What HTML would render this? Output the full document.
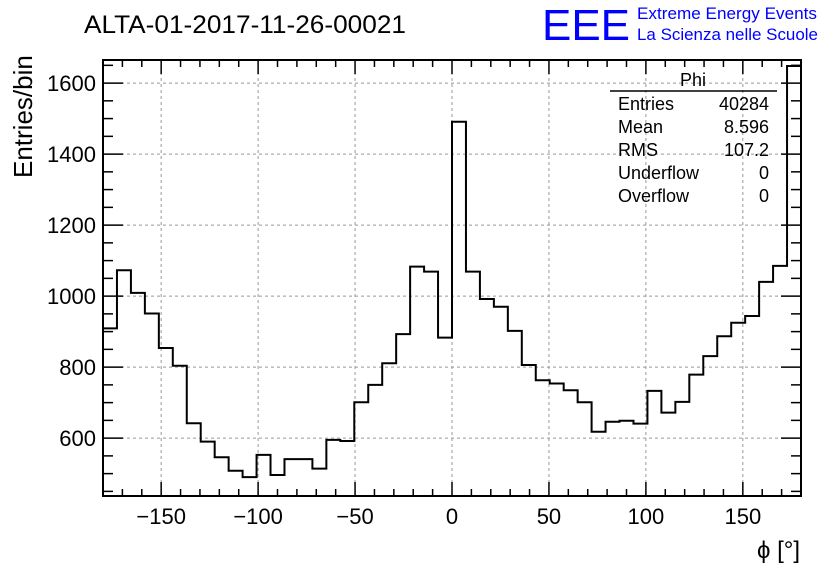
<!DOCTYPE html>
<html><head><meta charset="utf-8"><style>
body{margin:0;background:#fff;width:836px;height:572px;overflow:hidden}
svg{display:block;font-family:"Liberation Sans",sans-serif}
</style></head><body>
<svg id="c" width="836" height="572">
<text x="84" y="33" font-size="25" textLength="322" lengthAdjust="spacingAndGlyphs">ALTA-01-2017-11-26-00021</text>
<text x="542" y="40" font-size="44" fill="#0000ff" textLength="88" lengthAdjust="spacingAndGlyphs">EEE</text>
<text x="637" y="19" font-size="17" fill="#0000ff" textLength="180" lengthAdjust="spacingAndGlyphs">Extreme Energy Events</text>
<text x="637" y="40" font-size="17" fill="#0000ff" textLength="181" lengthAdjust="spacingAndGlyphs">La Scienza nelle Scuole</text>
<text transform="translate(32,178) rotate(-90)" font-size="26" text-anchor="start">Entries/bin</text>
<text x="800" y="558" font-size="24" text-anchor="end">ϕ [°]</text>
<g id="grid"></g><g id="hist"></g><g id="axes"></g>
<g font-size="18">
<text x="693" y="86" text-anchor="middle">Phi</text>
<line x1="610" y1="91" x2="777" y2="91" stroke="#000" stroke-width="1.5"/>
<text x="618" y="110">Entries</text><text x="769" y="110" text-anchor="end">40284</text>
<text x="618" y="133">Mean</text><text x="769" y="133" text-anchor="end">8.596</text>
<text x="618" y="156">RMS</text><text x="769" y="156" text-anchor="end">107.2</text>
<text x="618" y="179">Underflow</text><text x="769" y="179" text-anchor="end">0</text>
<text x="618" y="202">Overflow</text><text x="769" y="202" text-anchor="end">0</text>
</g>
</svg>
<script>
const binCounts=[909,1073,1009,951,854,804,642,590,546,508,490,553,496,541,541,514,595,592,701,750,811,893,1083,1069,883,1491,1069,992,970,902,806,763,754,735,701,618,646,649,641,733,672,702,779,831,887,925,944,1040,1085,1648];
const xTicks=[-150,-100,-50,0,50,100,150];
const yTicks=[600,800,1000,1200,1400,1600];
const X0=103,X1=801,Y0=496,Y1=60,xmin=-180,xmax=180,ymin=437,ymax=1665;
const sx=v=>X0+(v-xmin)/(xmax-xmin)*(X1-X0);
const sy=v=>Y0-(v-ymin)/(ymax-ymin)*(Y0-Y1);
const NS="http://www.w3.org/2000/svg";
function mk(t,a,p){const e=document.createElementNS(NS,t);for(const k in a)e.setAttribute(k,a[k]);p.appendChild(e);return e;}
const grid=document.getElementById('grid'),hist=document.getElementById('hist'),axes=document.getElementById('axes');
xTicks.forEach(v=>{const g=mk('line',{x1:sx(v),x2:sx(v),y1:Y1,y2:Y0,stroke:'#999','stroke-dasharray':'3,3'},grid);

});
yTicks.forEach(v=>{const g=mk('line',{x1:X0,x2:X1,y1:sy(v),y2:sy(v),stroke:'#999','stroke-dasharray':'3,3'},grid);

});
const n=binCounts.length,bw=(xmax-xmin)/n;
let d='M'+sx(xmin)+','+Y0;
binCounts.forEach((c,i)=>{d+=' L'+sx(xmin+i*bw)+','+sy(c)+' L'+sx(xmin+(i+1)*bw)+','+sy(c);});
d+=' L'+sx(xmax)+','+Y0;
const p=mk('path',{d:d,fill:'none',stroke:'#000','stroke-width':2},hist);


const fr=mk('rect',{x:X0,y:Y1,width:X1-X0,height:Y0-Y1,fill:'none',stroke:'#000','stroke-width':2},axes);


for(let v=-180;v<=180;v+=10){const L=(v%50===0)?14:7;
mk('line',{x1:sx(v),x2:sx(v),y1:Y0,y2:Y0-L,stroke:'#000','stroke-width':1.5},axes);
mk('line',{x1:sx(v),x2:sx(v),y1:Y1,y2:Y1+L,stroke:'#000','stroke-width':1.5},axes);}
for(let v=450;v<=1650;v+=50){const L=(v%200===0)?20:10;
mk('line',{x1:X0,x2:X0+L,y1:sy(v),y2:sy(v),stroke:'#000','stroke-width':1.5},axes);
mk('line',{x1:X1,x2:X1-L,y1:sy(v),y2:sy(v),stroke:'#000','stroke-width':1.5},axes);}
xTicks.forEach(v=>{const t=mk('text',{x:sx(v),y:524,'font-size':22,'text-anchor':'middle'},axes);t.textContent=(v<0?'\u2212'+(-v):v);

});
yTicks.forEach(v=>{const t=mk('text',{x:96,y:sy(v)+8,'font-size':22,'text-anchor':'end'},axes);t.textContent=v;

});
</script>
</body></html>
